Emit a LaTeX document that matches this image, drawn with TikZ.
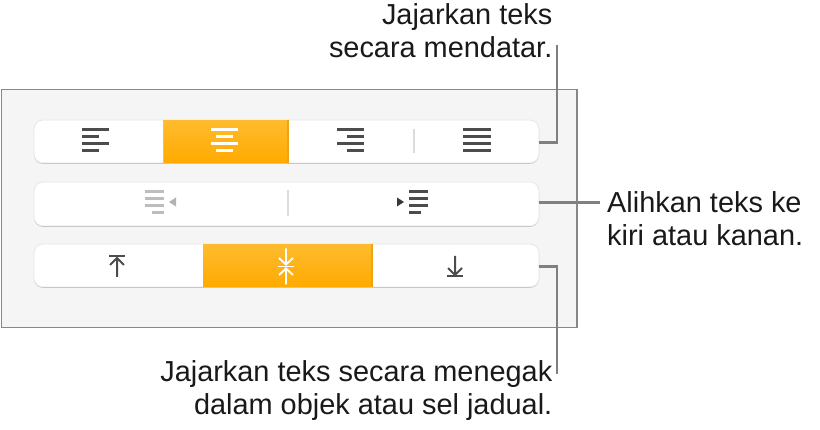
\documentclass[tikz,border=0pt]{standalone}
\usepackage{fontspec}
\setmainfont{Liberation Sans}
\begin{document}
\begin{tikzpicture}[x=1pt,y=-1pt,
  panel/.style={draw=black!47,line width=1.4pt,fill=black!4},
  btn/.style={fill=white,draw=black!10,line width=.7pt,rounded corners=9pt},
  btnshade/.style={fill=black!28,rounded corners=9pt},
  leader/.style={draw=black!50,line width=2.1pt},
  lbl/.style={font=\fontsize{28.9}{33}\selectfont,inner sep=0pt,align=right,text=black!90},
  lbll/.style={font=\fontsize{28.9}{33}\selectfont,inner sep=0pt,align=left,text=black!90},
  ic/.style={draw=black!70,line width=2.1pt},
  icl/.style={draw=black!26,line width=2.1pt},
  icw/.style={draw=white,line width=2.1pt},
  sep/.style={draw=black!14,line width=1.4pt}]
\useasboundingbox (0,0) rectangle (820,430);
\definecolor{orT}{HTML}{FFBB2E}\definecolor{orB}{HTML}{FFAA00}\definecolor{orE}{HTML}{EFA410}
\fill[white] (0,0) rectangle (820,430);
\node[panel,minimum width=575.8pt,minimum height=238pt,inner sep=0pt,anchor=north west] (pan) at (.6,89) {};
% row 1
\fill[btnshade] (34,121) rectangle (539,163.8);
\path[btn] (34,120) rectangle (539,163);
\shade[top color=orT,bottom color=orB] (163,120.5) rectangle (288,163);
\draw[orE,line width=1.2pt] (288,120.5) -- (288,163);
\draw[orE!70,line width=.6pt] (163,120.5) -- (163,163);
\foreach \y/\a/\b in {129.5/82/109,136.5/82/99,143.5/82/109,150.5/82/99}{\draw[ic] (\a,\y)--(\b,\y);}
\foreach \y/\a/\b in {129.5/211/238,136.5/216/233,143.5/211/238,150.5/216/233}{\draw[icw] (\a,\y)--(\b,\y);}
\foreach \y/\a/\b in {129.5/337/364,136.5/347/364,143.5/337/364,150.5/347/364}{\draw[ic] (\a,\y)--(\b,\y);}
\foreach \y in {129.5,136.5,143.5,150.5}{\draw[ic] (463,\y)--(490.5,\y);}
\draw[sep] (414,129)--(414,153);
% row 2
\fill[btnshade] (34,183) rectangle (539,226.8);
\path[btn] (34,182) rectangle (539,226);
\foreach \y/\a/\b in {191.5/144.5/163.5,198.5/144.5/163.5,205.5/144.5/163.5,212.5/152/163.5}{\draw[icl] (\a,\y)--(\b,\y);}
\fill[black!30] (169,202)--(176,197.5)--(176,206.5)--cycle;
\foreach \y/\a/\b in {191.5/409/428,198.5/409/428,205.5/409/428,212.5/409/420.5}{\draw[ic] (\a,\y)--(\b,\y);}
\fill[black!78] (404,202)--(397,197.5)--(397,206.5)--cycle;
\draw[sep] (288,190)--(288,216);
% row 3
\fill[btnshade] (34,245) rectangle (539,287.8);
\path[btn] (34,244) rectangle (539,287);
\shade[top color=orT,bottom color=orB] (203,244.5) rectangle (372,287);
\draw[orE,line width=1.2pt] (372,244.5) -- (372,287);
\draw[ic,line width=2pt] (109,256.5)--(125,256.5);
\draw[ic,line width=2pt] (117,277)--(117,257.5) (110,265)--(117,258)--(124,265);
\draw[ic,line width=2pt] (447,276.5)--(463,276.5);
\draw[ic,line width=2pt] (455,256)--(455,275.5) (448,268)--(455,275)--(462,268);
\draw[icw,line width=1.9pt] (278,266.5)--(294,266.5);
\draw[icw,line width=1.9pt] (286,248.5)--(286,264.5) (279,258)--(286,264.5)--(293,258);
\draw[icw,line width=1.9pt] (286,268.5)--(286,284.5) (279,275)--(286,268.5)--(293,275);
% labels
\node[lbl,anchor=north east] (t1) at (552.5,3.8) {Jajarkan teks\\secara mendatar.};
\node[lbll,anchor=north west] (t2) at (607,191.5) {Alihkan teks ke\\kiri atau kanan.};
\node[lbl,anchor=north east] (t3) at (552.5,360.3) {Jajarkan teks secara menegak\\dalam objek atau sel jadual.};
% leaders
\coordinate (b1) at (539,142.5);\coordinate (b2) at (539,202.5);\coordinate (b3) at (539,266.5);
\coordinate (e1) at (557,45);\coordinate (e2) at (600,202.5);\coordinate (e3) at (557,374);
\draw[leader] (b1)-|(e1);
\draw[leader] (b2)--(e2);
\draw[leader] (b3)-|(e3);
\end{tikzpicture}
\end{document}
